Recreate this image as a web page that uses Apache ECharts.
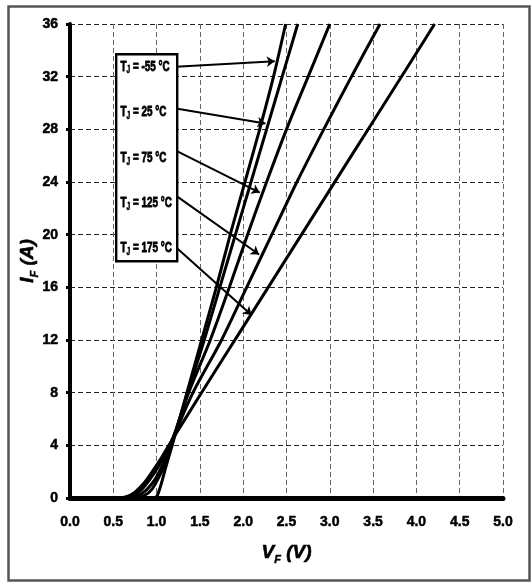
<!DOCTYPE html>
<html>
<head>
<meta charset="utf-8">
<script src="https://cdn.jsdelivr.net/npm/echarts@6/dist/echarts.min.js"></script>
<style>
html,body{margin:0;padding:0;background:#fff;}
#main{width:532px;height:585px;}
</style>
</head>
<body>
<div id="main"></div>
<script>
// ---- data (V_F in volts, I_F in amperes) ----
const tjM55 = [[0,0],[0.95,0],[1.0,0.1],[1.05,1.0],[1.1,2.2],[1.18,4],[1.35,8],[1.52,12],[1.69,16],[1.85,20],[2.02,24],[2.19,28],[2.35,32],[2.49,36]];
const tj25  = [[0,0],[0.75,0],[0.85,0.15],[0.95,0.7],[1.05,1.9],[1.1,2.7],[1.17,4],[1.36,8],[1.55,12],[1.73,16],[1.91,20],[2.09,24],[2.27,28],[2.45,32],[2.63,36]];
const tj75  = [[0,0],[0.68,0],[0.78,0.15],[0.88,0.6],[0.98,1.4],[1.06,2.4],[1.16,4],[1.37,8],[1.62,12],[1.84,16],[2.05,20],[2.27,24],[2.5,28],[2.75,32],[3.0,36]];
const tj125 = [[0,0],[0.62,0],[0.72,0.15],[0.82,0.6],[0.92,1.4],[1.02,2.4],[1.15,4],[1.42,8],[1.75,12],[2.04,16],[2.33,20],[2.62,24],[2.93,28],[3.25,32],[3.58,36]];
const tj175 = [[0,0],[0.55,0],[0.65,0.1],[0.75,0.45],[0.85,1.1],[0.95,2.0],[1.05,3.0],[1.15,4.1],[1.5,7.8],[2.0,13.0],[2.5,18.2],[3.0,23.4],[3.5,28.6],[4.0,33.8],[4.21,36]];
const seriesData = [tjM55, tj25, tj75, tj125, tj175];
const tempLabels = ['-55', '25', '75', '125', '175'];
// arrow start (at box edge) and tip (on curve), in data units
const arrowFrom = [[1.223,32.75],[1.223,29.59],[1.223,26.39],[1.223,22.97],[1.223,19.04]];
const arrowTo   = [[2.364,33.18],[2.257,28.45],[2.191,23.2],[2.183,18.49],[2.096,13.9]];
const xMin = 0, xMax = 5, xStep = 0.5;
const yMin = 0, yMax = 36, yStep = 4;

const FONT = '"Liberation Sans",Arial,sans-serif';

const chart = echarts.init(document.getElementById('main'), null, {renderer:'canvas'});

const series = seriesData.map((d, i) => ({
  type: 'line',
  data: d,
  showSymbol: false,
  smooth: 0.3,
  lineStyle: {color: '#000', width: 3},
  z: 3,
  markLine: {
    silent: true,
    symbol: ['none', 'arrow'],
    symbolSize: [8, 8],
    label: {show: false},
    lineStyle: {color: '#000', width: 2, type: 'solid'},
    data: [[{coord: arrowFrom[i]}, {coord: arrowTo[i]}]]
  }
}));

const boxLabelY = [66.7, 112.3, 158.3, 203.3, 248.3];
const graphics = [
  {type:'rect', left:6, top:4, shape:{width:521, height:574}, style:{fill:'none', stroke:'#555', lineWidth:2.5}, z:100, silent:true},
  {type:'rect', left:115, top:53, shape:{width:61, height:207}, style:{fill:'#fff', stroke:'#000', lineWidth:2.4}, z:100, silent:true}
];
tempLabels.forEach((t, i) => {
  graphics.push({
    type:'text', x:120.5, y:boxLabelY[i], scaleX:0.66, z:101, silent:true,
    style:{
      text:'{t|T}{s|J}{t| = ' + t + ' °C}',
      verticalAlign:'middle',
      rich:{
        t:{fontFamily:FONT, fontWeight:'bold', fontSize:15, fill:'#000', stroke:'#000', lineWidth:0.8, lineHeight:18},
        s:{fontFamily:FONT, fontWeight:'bold', fontSize:10, fill:'#000', stroke:'#000', lineWidth:0.6, lineHeight:10, verticalAlign:'bottom'}
      }
    }
  });
});

const nameRich = {
  i:{fontFamily:FONT, fontWeight:'bold', fontStyle:'italic', fontSize:19, color:'#000', textBorderColor:'#000', textBorderWidth:0.6, lineHeight:24},
  s:{fontFamily:FONT, fontWeight:'bold', fontStyle:'italic', fontSize:11, color:'#000', textBorderColor:'#000', textBorderWidth:0.4, lineHeight:11, verticalAlign:'bottom'}
};

chart.setOption({
  backgroundColor:'#fff',
  animation:false,
  grid:{left:70, right:29, top:24, bottom:87},
  xAxis:{
    type:'value', min:xMin, max:xMax, interval:xStep,
    name:'{i|V}{s|F}{i| (V)}', nameLocation:'middle', nameGap:43, nameMoveOverlap:false,
    nameTextStyle:{rich:nameRich},
    axisLine:{show:true, onZero:false, lineStyle:{color:'#000', width:5}},
    axisTick:{show:true, length:3, lineStyle:{color:'#000', width:2}},
    axisLabel:{fontFamily:FONT, fontWeight:'bold', fontSize:14, color:'#000', textBorderColor:'#000', textBorderWidth:0.5, margin:17,
      formatter:v => v.toFixed(1)},
    splitLine:{show:true, lineStyle:{color:'#666', width:1, type:[5,3]}}
  },
  yAxis:{
    type:'value', min:yMin, max:yMax, interval:yStep,
    name:'{i|I}{s|F}{i| (A)}', nameLocation:'middle', nameGap:30, nameRotate:90, nameMoveOverlap:false,
    nameTextStyle:{rich:nameRich},
    axisLine:{show:true, onZero:false, lineStyle:{color:'#000', width:4}},
    axisTick:{show:true, length:4, lineStyle:{color:'#000', width:3}},
    axisLabel:{fontFamily:FONT, fontWeight:'bold', fontSize:14, color:'#000', textBorderColor:'#000', textBorderWidth:0.5, margin:12},
    splitLine:{show:true, lineStyle:{color:'#222', width:1, type:[5,3]}}
  },
  series: series,
  graphic: graphics
});
</script>
</body>
</html>
